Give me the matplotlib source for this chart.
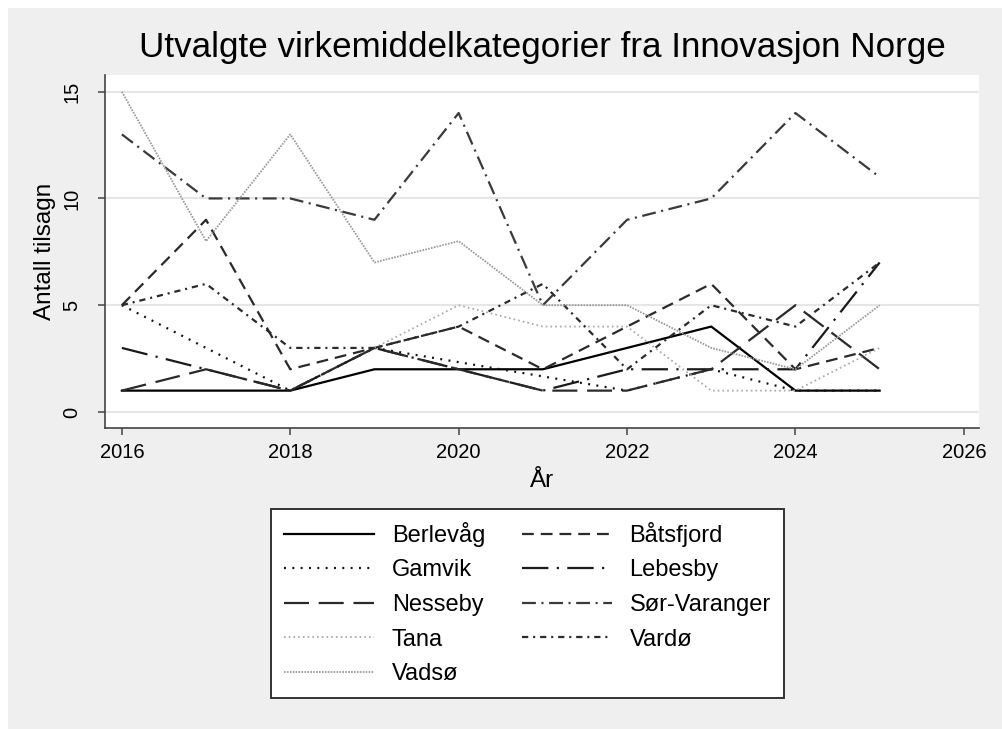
import numpy as np
import matplotlib
matplotlib.use("Agg")
import matplotlib.pyplot as plt
from matplotlib.patches import Rectangle

plt.rcParams['font.family'] = ['Liberation Sans', 'DejaVu Sans']
plt.rcParams['lines.scale_dashes'] = False

# data (nan = no value that year, line is drawn across)
years = [2016, 2017, 2018, 2019, 2020, 2021, 2022, 2023, 2024, 2025]
nan = np.nan
berlevag = [1, 1, 1, 2, 2, 2, 3, 4, 1, 1]
batsfjord = [5, 9, 2, 3, 4, 2, 4, 6, 2, 3]
gamvik = [5, 3, 1, 3, nan, nan, 1, 2, 1, 1]
lebesby = [3, 2, 1, 3, 2, 1, 2, 2, 2, 7]
nesseby = [1, 2, 1, 3, 2, 1, 1, 2, 5, 2]
sor_varanger = [13, 10, 10, 9, 14, 5, 9, 10, 14, 11]
tana = [nan, nan, nan, 3, 5, 4, 4, 1, 1, 3]
vardo = [5, 6, 3, 3, 4, 6, 2, 5, 4, 7]
vadso = [15, 8, 13, 7, 8, 5, 5, 3, 2, 5]

names = ['Berlevåg', 'Båtsfjord', 'Gamvik', 'Lebesby', 'Nesseby',
         'Sør-Varanger', 'Tana', 'Vardø', 'Vadsø']
series = [berlevag, batsfjord, gamvik, lebesby, nesseby,
          sor_varanger, tana, vardo, vadso]

# line styles (dash lengths in points), roughly like Stata's s2mono scheme
styles = [
    dict(color='#000000', lw=1.6, ls='-'),
    dict(color='#2a2a2a', lw=1.6, ls=(0, (8.5, 5))),
    dict(color='#111111', lw=1.6, ls=(0, (1.4, 4.6))),
    dict(color='#1a1a1a', lw=1.6, ls=(0, (19, 6, 1.6, 6))),
    dict(color='#2a2a2a', lw=1.6, ls=(0, (18, 7))),
    dict(color='#3a3a3a', lw=1.6, ls=(0, (10, 4, 1.5, 4))),
    dict(color='#a8a8a8', lw=1.3, ls=(0, (1.2, 2.2))),
    dict(color='#2a2a2a', lw=1.6, ls=(0, (4.5, 3.5, 1.5, 3.5))),
    dict(color='#9a9a9a', lw=1.3, ls=(0, (1.2, 0.9))),
]

fig = plt.figure(figsize=(10.03, 7.29), dpi=100, facecolor='#efefef')
W, H = 1003, 729
# white outer strips at top and left
fig.patches.append(Rectangle((0, 1 - 8 / H), 1, 8 / H, transform=fig.transFigure,
                             facecolor='white', edgecolor='none', zorder=0))
fig.patches.append(Rectangle((0, 0), 8 / W, 1, transform=fig.transFigure,
                             facecolor='white', edgecolor='none', zorder=0))

ax = fig.add_axes([105 / W, 1 - 428 / H, 874 / W, 353 / H])
ax.set_facecolor('white')

x = np.array(years)
handles = {}
for name, vals, st in zip(names, series, styles):
    v = np.array(vals, dtype=float)
    ok = ~np.isnan(v)
    ln, = ax.plot(x[ok], v[ok], label=name, color=st['color'], lw=st['lw'],
                  linestyle=st['ls'], dash_capstyle='butt', solid_joinstyle='miter')
    handles[name] = ln

ax.set_xlim(2015.8, 2026.18)
ax.set_ylim(-0.75, 15.78)
ax.set_xticks([2016, 2018, 2020, 2022, 2024, 2026])
ax.set_yticks([0, 5, 10, 15])
ax.grid(axis='y', color='#e6e6e6', lw=1.5)
ax.set_axisbelow(True)
for s in ['top', 'right']:
    ax.spines[s].set_visible(False)
for s in ['left', 'bottom']:
    ax.spines[s].set_color('#444444')
    ax.spines[s].set_linewidth(1.2)
ax.tick_params(axis='x', length=5, width=1.1, color='#444444', labelsize=14.5, pad=6)
ax.tick_params(axis='y', length=5, width=1.1, color='#444444', labelsize=14.5, pad=19)
for lab in ax.get_yticklabels():
    lab.set_rotation(90)
    lab.set_va('center')
    lab.set_ha('center')

fig.text(542 / W, 1 - 47 / H, 'Utvalgte virkemiddelkategorier fra Innovasjon Norge',
         ha='center', va='center', fontsize=25.2)
fig.text(542 / W, 1 - 481 / H, 'År', ha='center', va='center', fontsize=17.5)
fig.text(45 / W, 1 - 251 / H, 'Antall tilsagn', ha='center', va='center',
         rotation=90, fontsize=17.5)

# legend is filled row by row in the reference
order = ['Berlevåg', 'Gamvik', 'Nesseby', 'Tana', 'Vadsø',
         'Båtsfjord', 'Lebesby', 'Sør-Varanger', 'Vardø']
leg = fig.legend([handles[n] for n in order], order, loc='center',
                 bbox_to_anchor=(527.5 / W, 1 - 603.5 / H), ncol=2,
                 fontsize=17, handlelength=3.8, handletextpad=0.76,
                 columnspacing=1.55, labelspacing=0.53, fancybox=False,
                 borderpad=0.55, borderaxespad=0, framealpha=1)
leg.get_frame().set_edgecolor('#333333')
leg.get_frame().set_linewidth(1.4)
leg.get_frame().set_facecolor('white')

fig.savefig('out.png', dpi=100, facecolor=fig.get_facecolor())
